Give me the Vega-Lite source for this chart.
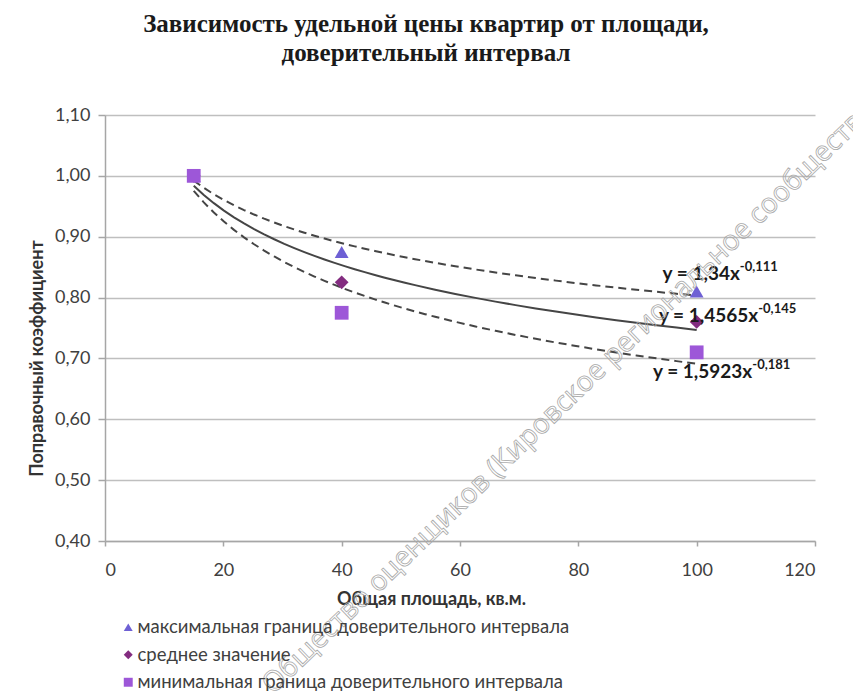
{
  "$schema": "https://vega.github.io/schema/vega-lite/v6.json",
  "autosize": {"type": "none"},
  "width": 710,
  "height": 426,
  "padding": {"left": 105, "top": 115, "right": 38, "bottom": 150},
  "background": "white",
  "config": {
    "view": {"stroke": null},
    "font": "Lato"
  },
  "title": {
    "text": ["Зависимость удельной цены квартир от площади,", "доверительный интервал"],
    "font": "Liberation Serif",
    "fontSize": 25,
    "fontWeight": "bold",
    "color": "#1a1a1a",
    "lineHeight": 29,
    "anchor": "middle",
    "dx": -34,
    "offset": 24
  },
  "datasets": {
    "pts": [
      {"area": 15, "k": 1.0, "series": "максимальная граница доверительного интервала"},
      {"area": 40, "k": 0.875, "series": "максимальная граница доверительного интервала"},
      {"area": 100, "k": 0.81, "series": "максимальная граница доверительного интервала"},
      {"area": 15, "k": 1.0, "series": "среднее значение"},
      {"area": 40, "k": 0.825, "series": "среднее значение"},
      {"area": 100, "k": 0.76, "series": "среднее значение"},
      {"area": 15, "k": 1.0, "series": "минимальная граница доверительного интервала"},
      {"area": 40, "k": 0.775, "series": "минимальная граница доверительного интервала"},
      {"area": 100, "k": 0.71, "series": "минимальная граница доверительного интервала"}
    ],
    "eq": [
      {"area": 107.3, "k": 0.838, "main": "y = 1,34x", "exp": "-0,111"},
      {"area": 110.4, "k": 0.769, "main": "y = 1,4565x", "exp": "-0,145"},
      {"area": 109.4, "k": 0.677, "main": "y = 1,5923x", "exp": "-0,181"}
    ],
    "wm": [
      {"area": 79.0, "k": 0.64, "text": "Общество оценщиков (Кировское региональное сообщество)"}
    ]
  },
  "encoding": {
    "x": {
      "field": "area",
      "type": "quantitative",
      "scale": {"domain": [0, 120], "nice": false, "zero": false},
      "axis": {
        "title": "Общая площадь, кв.м.",
        "values": [0, 20, 40, 60, 80, 100, 120],
        "grid": false,
        "domainColor": "#a6a6a6",
        "domainWidth": 1.5,
        "tickColor": "#a6a6a6",
        "tickSize": 5,
        "tickWidth": 1.5,
        "labelFont": "Lato",
        "labelFontSize": 18,
        "labelColor": "#404040",
        "labelPadding": 15,
        "titleFont": "Lato",
        "titleFontSize": 18,
        "titleFontWeight": "bold",
        "titleColor": "#333333",
        "titleX": 326,
        "titlePadding": 11
      }
    },
    "y": {
      "field": "k",
      "type": "quantitative",
      "scale": {"domain": [0.4, 1.1], "nice": false, "zero": false},
      "axis": {
        "title": "Поправочный коэффициент",
        "values": [0.4, 0.5, 0.6, 0.7, 0.8, 0.9, 1.0, 1.1],
        "labelExpr": "replace(format(datum.value, '.2f'), '.', ',')",
        "grid": true,
        "gridColor": "#bfbfbf",
        "gridWidth": 1.5,
        "domainColor": "#a6a6a6",
        "domainWidth": 1.5,
        "tickColor": "#a6a6a6",
        "tickSize": 7,
        "tickWidth": 1.5,
        "labelFont": "Lato",
        "labelFontSize": 18,
        "labelColor": "#404040",
        "labelPadding": 8,
        "titleFont": "Lato",
        "titleFontSize": 18,
        "titleFontWeight": "bold",
        "titleColor": "#333333",
        "titleY": 243,
        "titlePadding": 8
      }
    }
  },
  "layer": [
    {
      "data": {"name": "pts"},
      "transform": [
        {"filter": "datum.series !== 'среднее значение'"},
        {"regression": "k", "on": "area", "method": "pow", "groupby": ["series"]}
      ],
      "mark": {"type": "line", "color": "#454545", "strokeWidth": 2, "strokeDash": [8, 5]},
      "encoding": {
        "detail": {"field": "series", "type": "nominal"}
      }
    },
    {
      "data": {"name": "pts"},
      "transform": [
        {"filter": "datum.series === 'среднее значение'"},
        {"regression": "k", "on": "area", "method": "pow"}
      ],
      "mark": {"type": "line", "color": "#454545", "strokeWidth": 2},
      "encoding": {}
    },
    {
      "data": {"name": "pts"},
      "mark": {"type": "point", "filled": true, "opacity": 1, "size": 190},
      "encoding": {
        "shape": {
          "field": "series",
          "type": "nominal",
          "scale": {
            "domain": ["максимальная граница доверительного интервала", "среднее значение", "минимальная граница доверительного интервала"],
            "range": ["triangle-up", "diamond", "square"]
          },
          "legend": {
            "title": null,
            "orient": "none",
            "legendX": 14,
            "legendY": 503,
            "direction": "vertical",
            "rowPadding": 8.5,
            "symbolSize": 80,
            "labelFont": "Lato",
            "labelFontSize": 18.5,
            "labelColor": "#404040",
            "labelOffset": 0,
            "labelLimit": 700
          }
        },
        "color": {
          "field": "series",
          "type": "nominal",
          "scale": {
            "domain": ["максимальная граница доверительного интервала", "среднее значение", "минимальная граница доверительного интервала"],
            "range": ["#6e60d4", "#832c80", "#9d57d8"]
          },
          "legend": {
            "title": null,
            "orient": "none",
            "legendX": 14,
            "legendY": 503,
            "direction": "vertical",
            "rowPadding": 8.5,
            "symbolSize": 80,
            "labelFont": "Lato",
            "labelFontSize": 18.5,
            "labelColor": "#404040",
            "labelOffset": 0,
            "labelLimit": 700
          }
        }
      }
    },
    {
      "data": {"name": "eq"},
      "mark": {"type": "text", "align": "right", "baseline": "middle", "font": "Lato", "fontSize": 19, "fontWeight": "bold", "color": "#1a1a1a"},
      "encoding": {"text": {"field": "main"}}
    },
    {
      "data": {"name": "eq"},
      "mark": {"type": "text", "align": "left", "baseline": "middle", "dy": -7, "font": "Lato", "fontSize": 13, "fontWeight": "bold", "color": "#1a1a1a"},
      "encoding": {"text": {"field": "exp"}}
    },
    {
      "data": {"name": "wm"},
      "mark": {"type": "text", "align": "center", "baseline": "middle", "angle": -44, "font": "Open Sans", "fontSize": 28, "fillOpacity": 0, "stroke": "#a8a8a8", "strokeWidth": 0.8},
      "encoding": {"text": {"field": "text"}}
    }
  ]
}
